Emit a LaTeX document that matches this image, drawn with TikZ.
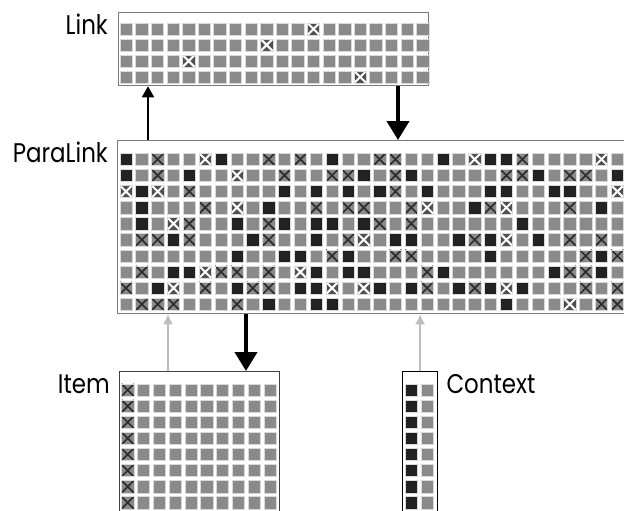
\documentclass[tikz,border=0pt]{standalone}
\usepackage{fontspec}
\newfontfamily\namefont[FakeStretch=0.85]{Poppins}
\usepackage{tikz}
\usetikzlibrary{arrows.meta, positioning}

\definecolor{cellgray}{HTML}{8A8A8A}
\definecolor{celldark}{HTML}{222222}
\definecolor{crossdark}{HTML}{2E2E2E}
\definecolor{cellmid}{HTML}{505050}
\definecolor{boxline}{HTML}{7A7A7A}
\definecolor{feedgray}{HTML}{BDBDBD}

\begin{document}
\begin{tikzpicture}[
    x=1pt, y=-1pt,
    box/.style={draw=boxline, line width=1.3pt, anchor=north west, inner sep=0pt},
    cell/.style={minimum size=12.3pt, inner sep=0pt, draw=white!70!gray, line width=0.5pt},
    cellg/.style={cell, fill=cellgray},
    celld/.style={cell, fill=celldark},
    cellx/.style={cell, fill=cellgray, path picture={
        \draw[crossdark, line width=1.7pt]
          (path picture bounding box.north west) -- (path picture bounding box.south east)
          (path picture bounding box.north east) -- (path picture bounding box.south west);}},
    cellw/.style={cell, fill=cellmid, path picture={
        \draw[white, line width=2pt]
          (path picture bounding box.north west) -- (path picture bounding box.south east)
          (path picture bounding box.north east) -- (path picture bounding box.south west);}},
    boxname/.style={font=\namefont\fontsize{27}{30}\selectfont, inner sep=0pt},
    pull/.style={line width=2pt, -{Triangle[length=11pt, width=12pt]}},
    push/.style={line width=4pt, -{Triangle[length=19pt, width=22pt]}},
    feed/.style={draw=feedgray, line width=1.5pt, -{Latex[length=10pt, width=10pt]}}
]
\useasboundingbox (0,0) rectangle (624,511);
\clip (0,0) rectangle (624,511);

% Define boxes
\node[box, minimum width=310, minimum height=73] (link) at (118,12) {};
\node[box, minimum width=520, minimum height=173] (paralink) at (117,140) {};
\node[box, draw=black!75, minimum width=160, minimum height=160] (item) at (119,371) {};
\node[box, draw=black, minimum width=35, minimum height=160] (context) at (402,371) {};

% Box names
\node[boxname, anchor=base east] (linkname) at ([shift={(-10,23)}]link.north west) {Link};
\node[boxname, anchor=base east] (paraname) at ([shift={(-9,22)}]paralink.north west) {ParaLink};
\node[boxname, anchor=base east] (itemname) at ([shift={(-9,22)}]item.north west) {Item};
\node[boxname, anchor=base west] (ctxname) at ([shift={(8,22)}]context.north east) {Context};

% Link cells (one white cross per row)
\foreach \r/\w in {0/12, 1/9, 2/4, 3/15}
  \foreach \k in {0,...,19} {
    \ifnum\k=\w \def\c{w}\else\def\c{g}\fi
    \node[cell\c] (lk-\r-\k) at (126.25+15.6*\k, 29+16*\r) {};
  }

% ParaLink cells: g gray, d dark, x dark cross, w white cross
\foreach \cells [count=\r from 0] in {%
  {d,g,x,g,g,w,d,g,g,x,g,x,g,d,g,g,x,x,g,g,d,g,w,d,d,x,g,g,g,g,w,g},%
  {d,g,x,g,d,g,g,w,g,g,x,g,g,x,x,d,g,x,d,g,g,g,g,g,x,x,d,g,x,x,g,d},%
  {w,d,w,g,x,g,g,g,g,g,d,g,d,g,d,g,d,x,g,d,g,g,g,d,d,g,g,d,d,g,g,w},%
  {g,d,g,g,g,x,g,w,g,d,g,g,x,g,x,x,g,g,x,w,g,g,d,x,w,g,g,g,x,g,d,g},%
  {g,d,g,w,x,g,g,d,g,x,d,g,d,d,g,d,x,g,x,g,g,g,g,g,g,d,g,g,g,g,g,g},%
  {g,x,x,d,x,g,g,g,d,x,g,g,d,g,x,w,g,d,d,g,g,d,x,d,w,g,d,g,x,g,x,g},%
  {g,g,g,g,g,g,g,d,g,g,d,d,g,x,d,g,g,x,x,g,g,g,g,d,g,g,g,g,g,x,d,x},%
  {g,x,g,d,d,w,x,x,g,x,g,w,d,g,d,d,g,g,g,x,d,g,g,g,g,g,g,d,x,x,d,g},%
  {x,g,d,w,g,x,g,d,x,x,g,d,d,w,g,w,d,g,d,x,g,d,x,d,w,d,g,g,g,x,g,x},%
  {g,x,x,x,g,g,g,x,g,d,g,g,d,d,g,g,g,g,g,g,g,g,g,g,d,g,g,g,w,g,x,x}%
}{
  \foreach \c [count=\k from 0] in \cells
    \node[cell\c] (pl-\r-\k) at (126+15.85*\k, 159.3+16.1*\r) {};
}

% Item cells
\foreach \r in {0,...,7}
  \foreach \k in {0,...,9} {
    \ifnum\k=0 \def\c{x}\else\def\c{g}\fi
    \node[cell\c] (it-\r-\k) at (127.7+15.8*\k, 390+16.1*\r) {};
  }

% Context cells
\foreach \r in {0,...,7} {
  \node[celld] (cx-\r-0) at (411.5, 390+16.1*\r) {};
  \node[cellg] (cx-\r-1) at (427, 390+16.1*\r) {};
}

% Define arrows
\coordinate (upA) at (148,0);
\coordinate (downA) at (398,0);
\coordinate (upB) at (168,0);
\coordinate (downB) at (246,0);

% ParaLink -> Link
\draw[pull] (paralink.north -| upA) -- (link.south -| upA);
% Link -> ParaLink
\draw[push] (link.south -| downA) -- (paralink.north -| downA);
% Item -> ParaLink
\draw[feed] (item.north -| upB) -- (paralink.south -| upB);
% ParaLink -> Item
\draw[push] (paralink.south -| downB) -- (item.north -| downB);
% Context -> ParaLink
\draw[feed] (context.north) -- (paralink.south -| context.north);

\end{tikzpicture}
\end{document}
